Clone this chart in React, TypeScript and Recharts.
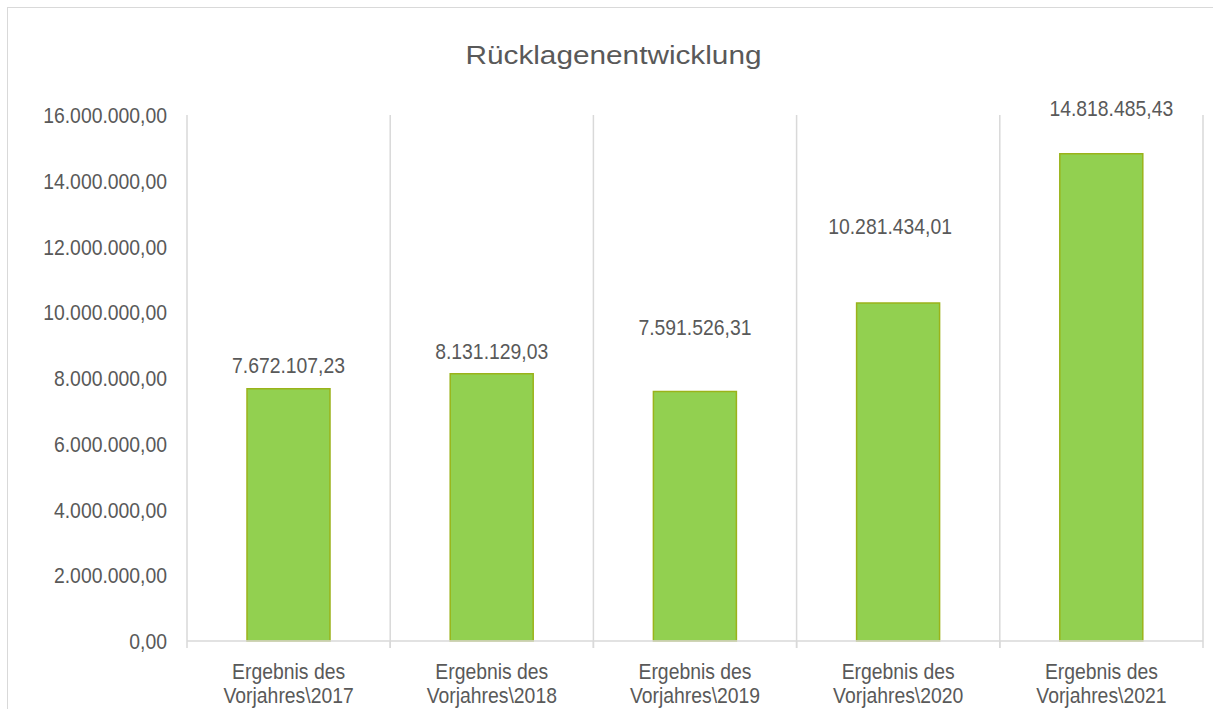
import { BarChart, Bar, XAxis, YAxis, CartesianGrid, LabelList } from 'recharts';

const categories = [
  'Ergebnis des Vorjahres\\2017',
  'Ergebnis des Vorjahres\\2018',
  'Ergebnis des Vorjahres\\2019',
  'Ergebnis des Vorjahres\\2020',
  'Ergebnis des Vorjahres\\2021'
];
const reserves = [7672107.23, 8131129.03, 7591526.31, 10281434.01, 14818485.43];
const yTicks = [0, 2000000, 4000000, 6000000, 8000000, 10000000, 12000000, 14000000, 16000000];

// Excel labels were dragged by hand, so each sits at its own spot above the bar
const labelLift = [16, 15, 56, 69, 38];
const labelShift = [0, 0, 0, -8, 10];

const data = categories.map((name, i) => ({ name, value: reserves[i] }));

const FONT = '"Liberation Sans", Arial, sans-serif';
const TEXT = '#595959';
const GRID = '#d9d9d9';

const CHART_W = 1300;
const CHART_H = 760;
const MARGIN = { top: 107, right: 105, left: 0, bottom: 67 };
const Y_W = 179;
const PLOT_W = CHART_W - MARGIN.left - MARGIN.right - Y_W;
const BAND = PLOT_W / categories.length;

function formatDe(v: number) {
  const [int, dec] = v.toFixed(2).split('.');
  return int.replace(/\B(?=(\d{3})+(?!\d))/g, '.') + ',' + dec;
}

function YTick({ x, y, payload }: any) {
  return (
    <text
      transform={`translate(${x},${y}) scale(0.88,1)`}
      dy={8}
      textAnchor="end"
      fill={TEXT}
      fontSize={22}
      fontFamily={FONT}
    >
      {formatDe(payload.value)}
    </text>
  );
}

function CategoryTick({ x, y, payload }: any) {
  const s: string = payload.value;
  const cut = s.lastIndexOf(' ');
  const lines = [s.slice(0, cut), s.slice(cut + 1)];
  return (
    <g>
      <line x1={x - BAND / 2} x2={x - BAND / 2} y1={y} y2={y + 7} stroke={GRID} strokeWidth={1.5} />
      <line x1={x + BAND / 2} x2={x + BAND / 2} y1={y} y2={y + 7} stroke={GRID} strokeWidth={1.5} />
      <g transform={`translate(${x},${y}) scale(0.88,1)`}>
        {lines.map((line, i) => (
          <text
            key={i}
            y={38 + i * 24}
            textAnchor="middle"
            fill={TEXT}
            fontSize={22}
            fontFamily={FONT}
          >
            {line}
          </text>
        ))}
      </g>
    </g>
  );
}

function ValueLabel({ x, y, width, value, index }: any) {
  return (
    <text
      transform={`translate(${x + width / 2 + labelShift[index]},${y - labelLift[index]}) scale(0.88,1)`}
      textAnchor="middle"
      fill={TEXT}
      fontSize={22}
      fontFamily={FONT}
    >
      {formatDe(value)}
    </text>
  );
}

export default function App() {
  return (
    <div style={{ position: 'fixed', left: 0, top: 0, width: 1213, height: 709, overflow: 'hidden', background: '#fff' }}>
      <div
        style={{
          position: 'absolute',
          left: 7,
          top: 7,
          width: CHART_W,
          height: CHART_H,
          border: `1px solid ${GRID}`
        }}
      >
        <div
          style={{
            position: 'absolute',
            left: 0,
            top: 35,
            width: 1211,
            textAlign: 'center',
            fontFamily: FONT,
            fontSize: 25,
            lineHeight: '25px',
            color: TEXT,
            transform: 'scaleX(1.19)'
          }}
        >
          Rücklagenentwicklung
        </div>
        <BarChart width={CHART_W} height={CHART_H} data={data} margin={MARGIN}>
          <CartesianGrid
            horizontal={false}
            stroke={GRID}
            strokeWidth={1.5}
            verticalCoordinatesGenerator={() =>
              categories.map((_, i) => MARGIN.left + Y_W + i * BAND).concat(MARGIN.left + Y_W + PLOT_W)
            }
          />
          <XAxis
            dataKey="name"
            height={60}
            axisLine={{ stroke: GRID, strokeWidth: 1.5 }}
            tickLine={false}
            tickSize={0}
            tickMargin={0}
            interval={0}
            tick={<CategoryTick />}
          />
          <YAxis
            width={Y_W}
            domain={[0, 16000000]}
            ticks={yTicks}
            axisLine={false}
            tickLine={false}
            tickSize={0}
            tickMargin={20}
            tick={<YTick />}
          />
          <Bar
            dataKey="value"
            fill="#92d050"
            stroke="#9ab31a"
            strokeWidth={1.5}
            barSize={83}
            isAnimationActive={false}
          >
            <LabelList dataKey="value" content={<ValueLabel />} />
          </Bar>
        </BarChart>
      </div>
    </div>
  );
}
